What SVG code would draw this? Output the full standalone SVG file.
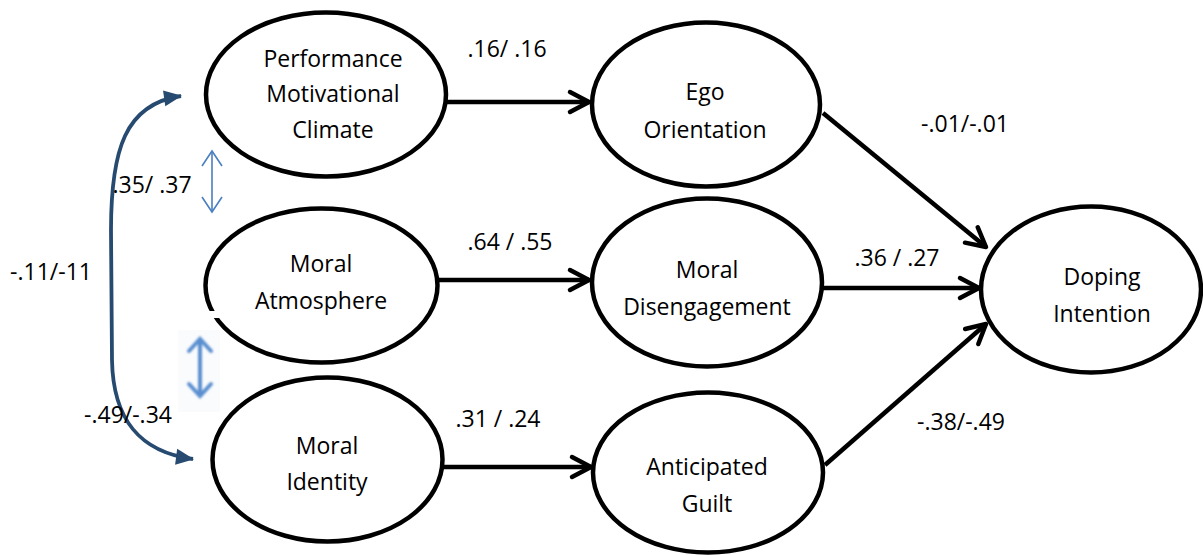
<svg xmlns="http://www.w3.org/2000/svg" width="1203" height="555" viewBox="0 0 1203 555">
<style>
.node ellipse{fill:#fff;stroke:#000;stroke-width:4.5}
text{font-family:"Open Sans","Liberation Sans",sans-serif;font-size:23px;fill:#000;text-anchor:middle}
.conn{stroke:#000;stroke-width:4.5;fill:none;marker-end:url(#chev)}
</style>
<defs>
<marker id="chev" markerUnits="userSpaceOnUse" markerWidth="30" markerHeight="30" viewBox="-25 -15 30 30" refX="0" refY="0" orient="auto" overflow="visible">
<path d="M-19,-10 L0,0 L-19,10" fill="none" stroke="#000" stroke-width="4.5" stroke-linecap="round" stroke-linejoin="round"/>
</marker>
<marker id="navy" markerUnits="userSpaceOnUse" markerWidth="30" markerHeight="30" viewBox="-25 -15 30 30" refX="0" refY="0" orient="auto-start-reverse" overflow="visible">
<path d="M1,0 L-17,-8 L-17,8 Z" fill="#264a70"/>
</marker>
<marker id="thin" markerUnits="userSpaceOnUse" markerWidth="30" markerHeight="30" viewBox="-25 -15 30 30" refX="0" refY="0" orient="auto-start-reverse" overflow="visible">
<path d="M-15,-10 L0,0 L-15,10" fill="none" stroke="#4a7fc0" stroke-width="1.6"/>
</marker>
<marker id="thick" markerUnits="userSpaceOnUse" markerWidth="30" markerHeight="30" viewBox="-25 -15 30 30" refX="0" refY="0" orient="auto-start-reverse" overflow="visible">
<path d="M-12,-11 L0,0 L-12,11" fill="none" stroke="#5a8fd0" stroke-width="4" stroke-linecap="round"/>
</marker>
<filter id="blur" filterUnits="userSpaceOnUse" x="170" y="320" width="60" height="100">
<feGaussianBlur stdDeviation="1.1"/>
</filter>
</defs>
<rect width="1203" height="555" fill="#fff"/>

<g id="n-pmc" class="node">
<ellipse cx="326" cy="94.5" rx="120" ry="82"/>
<text x="333" y="67">Performance</text>
<text x="333" y="102">Motivational</text>
<text x="333" y="138">Climate</text>
</g>
<g id="n-ma" class="node">
<ellipse cx="321.5" cy="285.5" rx="116" ry="77"/>
<rect x="198" y="311" width="24" height="7" fill="#fff"/>
<text x="321" y="272">Moral</text>
<text x="321" y="309">Atmosphere</text>
</g>
<g id="n-mi" class="node">
<ellipse cx="327.5" cy="459.5" rx="115" ry="82"/>
<text x="327" y="454">Moral</text>
<text x="327" y="490">Identity</text>
</g>
<g id="n-ego" class="node">
<ellipse cx="706" cy="104.5" rx="114" ry="82"/>
<text x="705" y="100">Ego</text>
<text x="705" y="138">Orientation</text>
</g>
<g id="n-md" class="node">
<ellipse cx="707" cy="282.5" rx="115" ry="84"/>
<text x="707" y="278">Moral</text>
<text x="707" y="315">Disengagement</text>
</g>
<g id="n-ag" class="node">
<ellipse cx="708" cy="472.5" rx="115" ry="80"/>
<text x="707" y="475">Anticipated</text>
<text x="707" y="512">Guilt</text>
</g>
<g id="n-di" class="node">
<ellipse cx="1091" cy="289.5" rx="110" ry="83"/>
<text x="1102" y="285">Doping</text>
<text x="1102" y="322">Intention</text>
</g>

<g id="connectors">
<line class="conn" x1="447" y1="102" x2="589" y2="102"/>
<line class="conn" x1="438" y1="280" x2="589" y2="280"/>
<line class="conn" x1="443" y1="467" x2="591" y2="467"/>
<line class="conn" x1="823" y1="113" x2="986" y2="247"/>
<line class="conn" x1="823" y1="288" x2="979" y2="288"/>
<line class="conn" x1="825" y1="465" x2="986" y2="324"/>
<path d="M181,96 C125,104 111,150 111,230 L112,360 C113,420 140,452 193,459" fill="none" stroke="#264a70" stroke-width="3.8" marker-start="url(#navy)" marker-end="url(#navy)"/>
<line x1="212" y1="151" x2="212" y2="212" stroke="#4a7fc0" stroke-width="1.6" marker-start="url(#thin)" marker-end="url(#thin)"/>
<rect x="178" y="330" width="42" height="82" fill="#fafbfd"/>
<g filter="url(#blur)">
<line x1="200" y1="339" x2="200" y2="396" stroke="#5a8fd0" stroke-width="4" marker-start="url(#thick)" marker-end="url(#thick)"/>
</g>
</g>

<g id="labels">
<text x="507" y="57">.16/ .16</text>
<text x="510" y="250">.64 / .55</text>
<text x="498" y="427">.31 / .24</text>
<text x="965" y="132">-.01/-.01</text>
<text x="897" y="266">.36 / .27</text>
<text x="961" y="430">-.38/-.49</text>
<text x="152" y="193">.35/ .37</text>
<text x="51" y="280">-.11/-11</text>
<text x="128" y="423">-.49/-.34</text>
</g>
</svg>
